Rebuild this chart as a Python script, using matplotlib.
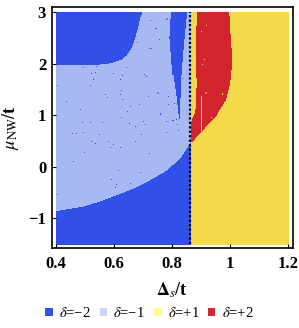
import numpy as np
import matplotlib
matplotlib.use("Agg")
import matplotlib.pyplot as plt
from matplotlib.colors import ListedColormap
from matplotlib.patches import Patch

plt.rcParams['font.family'] = ['Liberation Serif', 'DejaVu Serif']
plt.rcParams['mathtext.fontset'] = 'stix'

# ---------------- data ----------------
phase_labels = ['$\\delta$=\u22122', '$\\delta$=\u22121', '$\\delta$=+1', '$\\delta$=+2']
phase_colors = ['#3050E8', '#A6B9F2', '#F4DA48', '#D2242C']
legend_colors = ['#3050E8', '#C9D5F6', '#FFFF88', '#D2242C']

x_range = [0.4, 1.2]
y_range = [-1.5, 3.0]
gap_x = 0.862  # dotted line, topological transition

# top-left delta=-2 region: above this curve (x < last x)
tl_x = [0.40, 0.54, 0.586, 0.627, 0.644, 0.661, 0.672, 0.682, 0.690, 0.697]
tl_y = [1.98, 1.98, 2.01, 2.08, 2.17, 2.32, 2.50, 2.69, 2.89, 3.00]

# bottom delta=-2 region: below this curve
bt_x = [0.40, 0.494, 0.552, 0.609, 0.667, 0.724, 0.782, 0.828, 0.856, 0.862]
bt_y = [-0.85, -0.76, -0.66, -0.54, -0.41, -0.25, -0.06, 0.20, 0.43, 0.50]

# middle delta=-2 band (left/right edges vs y)
band_y = [0.87, 1.33, 1.85, 2.50, 3.00]
band_l = [0.822, 0.813, 0.800, 0.791, 0.796]
band_r = [0.822, 0.826, 0.830, 0.840, 0.849]

# delta=+2 region (left/right edges vs y)
red_y = [0.49, 0.62, 0.72, 0.85, 0.98, 1.04, 1.30, 1.62, 1.95, 2.27, 2.60, 3.00]
red_l = [0.862, 0.862, 0.862, 0.862, 0.870, 0.877, 0.880, 0.882, 0.880, 0.880, 0.880, 0.884]
red_r = [0.866, 0.886, 0.903, 0.926, 0.950, 0.955, 0.984, 0.998, 1.004, 1.003, 0.999, 0.995]

# thin delta=+1 sliver inside the red region
sliver_x = [0.896, 0.899]
sliver_y = [0.72, 1.38]

# scattered delta=-2 points inside the delta=-1 region
spk_blue_x = [0.494, 0.537, 0.520, 0.535, 0.598, 0.627, 0.623, 0.644, 0.725, 0.745,
              0.782, 0.722, 0.681, 0.704, 0.713, 0.404, 0.435, 0.483, 0.517, 0.529,
              0.569, 0.577, 0.624, 0.623, 0.627, 0.655, 0.646, 0.688, 0.719, 0.753,
              0.759, 0.788, 0.788, 0.702, 0.489, 0.517, 0.561, 0.624, 0.652, 0.673,
              0.707, 0.782, 0.803, 0.817, 0.820, 0.782, 0.469, 0.454, 0.494, 0.550,
              0.581, 0.596, 0.587, 0.521, 0.535, 0.621, 0.675, 0.721, 0.696, 0.497,
              0.460, 0.613, 0.692, 0.590, 0.609, 0.604, 0.655, 0.402, 0.784, 0.744,
              0.757, 0.728, 0.750, 0.788, 0.805, 0.761, 0.811, 0.834]
spk_blue_y = [1.93, 1.95, 1.82, 1.83, 1.82, 1.77, 1.69, 1.93, 2.85, 2.68,
              2.87, 2.30, 2.42, 1.79, 1.75, 1.57, 1.27, 1.11, 1.58, 1.69,
              1.40, 1.35, 1.48, 1.40, 1.31, 1.17, 1.08, 1.20, 1.37, 1.43,
              1.01, 1.37, 1.20, 0.88, 0.86, 0.85, 0.85, 0.95, 0.828, 0.783,
              0.816, 0.880, 0.900, 0.816, 0.718, 0.673, 0.654, 0.667, 0.686, 0.641,
              0.511, 0.447, 0.395, 0.511, 0.460, 0.395, 0.511, 0.265, 0.641, 0.285,
              0.123, -0.058, -0.103, -0.240, -0.336, -0.382, -0.304, -0.524, 2.89, 2.68,
              2.47, 2.30, 1.45, 1.37, 1.22, 1.04, 0.91, 1.72]

# scattered delta=+1 points inside the delta=+2 region
spk_yel_x = [0.915, 0.897, 0.909, 0.903, 0.915, 0.972, 0.911, 0.972, 0.932, 0.909]
spk_yel_y = [2.74, 2.63, 2.08, 1.98, 1.45, 1.41, 1.42, 1.42, 0.945, 0.67]

x_ticks = [0.4, 0.6, 0.8, 1.0, 1.2]
x_ticklabels = ['0.4', '0.6', '0.8', '1', '1.2']
y_ticks = [-1, 0, 1, 2, 3]
y_ticklabels = ['\u22121', '0', '1', '2', '3']

# ---------------- build phase map ----------------
nx, ny = 232, 232
xs = np.linspace(x_range[0], x_range[1], nx)
ys = np.linspace(y_range[0], y_range[1], ny)
X, Y = np.meshgrid(xs, ys)

Z = np.ones_like(X, dtype=int)            # delta = -1 everywhere left
Z[X > gap_x] = 2                           # delta = +1 right of transition

left = X <= gap_x
tl_curve = np.interp(X, tl_x, tl_y)
Z[left & (X <= tl_x[-1]) & (Y >= tl_curve)] = 0
bt_curve = np.interp(X, bt_x, bt_y)
Z[left & (Y <= bt_curve)] = 0
bl = np.interp(Y, band_y, band_l)
br = np.interp(Y, band_y, band_r)
Z[left & (Y >= band_y[0]) & (X >= bl) & (X <= br)] = 0

rl = np.interp(Y, red_y, red_l)
rr = np.interp(Y, red_y, red_r)
Z[(X > gap_x) & (Y >= red_y[0]) & (X >= rl) & (X <= rr)] = 3
Z[(X >= sliver_x[0]) & (X <= sliver_x[1]) & (Y >= sliver_y[0]) & (Y <= sliver_y[1])] = 2

def cell(x, y):
    i = int(round((y - y_range[0]) / (y_range[1] - y_range[0]) * (ny - 1)))
    j = int(round((x - x_range[0]) / (x_range[1] - x_range[0]) * (nx - 1)))
    return i, j

for x, y in zip(spk_blue_x, spk_blue_y):
    i, j = cell(x, y)
    if Z[i, j] == 1:
        Z[i, j] = 0
for x, y in zip(spk_yel_x, spk_yel_y):
    i, j = cell(x, y)
    if Z[i, j] == 3:
        Z[i, j] = 2

# ---------------- draw ----------------
fig = plt.figure(figsize=(2.99, 3.28), dpi=100)
ax = fig.add_axes([0.173, 0.245, 0.806, 0.733])

cmap = ListedColormap(phase_colors)
dx = (x_range[1] - x_range[0]) / (nx - 1) / 2
dy = (y_range[1] - y_range[0]) / (ny - 1) / 2
ax.imshow(Z, cmap=cmap, vmin=-0.5, vmax=3.5, origin='lower', aspect='auto',
          interpolation='nearest',
          extent=[x_range[0] - dx, x_range[1] + dx, y_range[0] - dy, y_range[1] + dy])

ax.plot([gap_x, gap_x], y_range, color='black', linestyle=(0, (1.0, 1.0)), linewidth=1.6)

ax.set_xlim(0.385, 1.217)
ax.set_ylim(-1.57, 3.1)
ax.set_xticks(x_ticks)
ax.set_xticklabels(x_ticklabels)
ax.set_yticks(y_ticks)
ax.set_yticklabels(y_ticklabels)
ax.tick_params(axis='both', direction='in', length=3, width=0.8, top=False, right=False,
               labelsize=12)
ax.tick_params(axis='x', pad=6)
ax.tick_params(axis='y', pad=4)
for lab in ax.get_xticklabels() + ax.get_yticklabels():
    lab.set_fontweight('bold')
for sp in ax.spines.values():
    sp.set_linewidth(1.2)

ax.set_xlabel('$\\mathbf{\\Delta}_{\\mathit{s}}$/t', fontsize=13, fontweight='bold', labelpad=6)
ax.set_ylabel('$\\mu_{\\rm NW}$/t', fontsize=13, fontweight='bold', labelpad=5)

handles = [Patch(facecolor=c, edgecolor='none') for c in legend_colors]
fig.legend(handles, phase_labels, loc='center', bbox_to_anchor=(0.5, 0.046), ncol=4,
           frameon=False, fontsize=10.5, handlelength=0.5, handleheight=0.5,
           handletextpad=0.45, columnspacing=0.6, borderaxespad=0)

fig.savefig('out.png', dpi=100)
